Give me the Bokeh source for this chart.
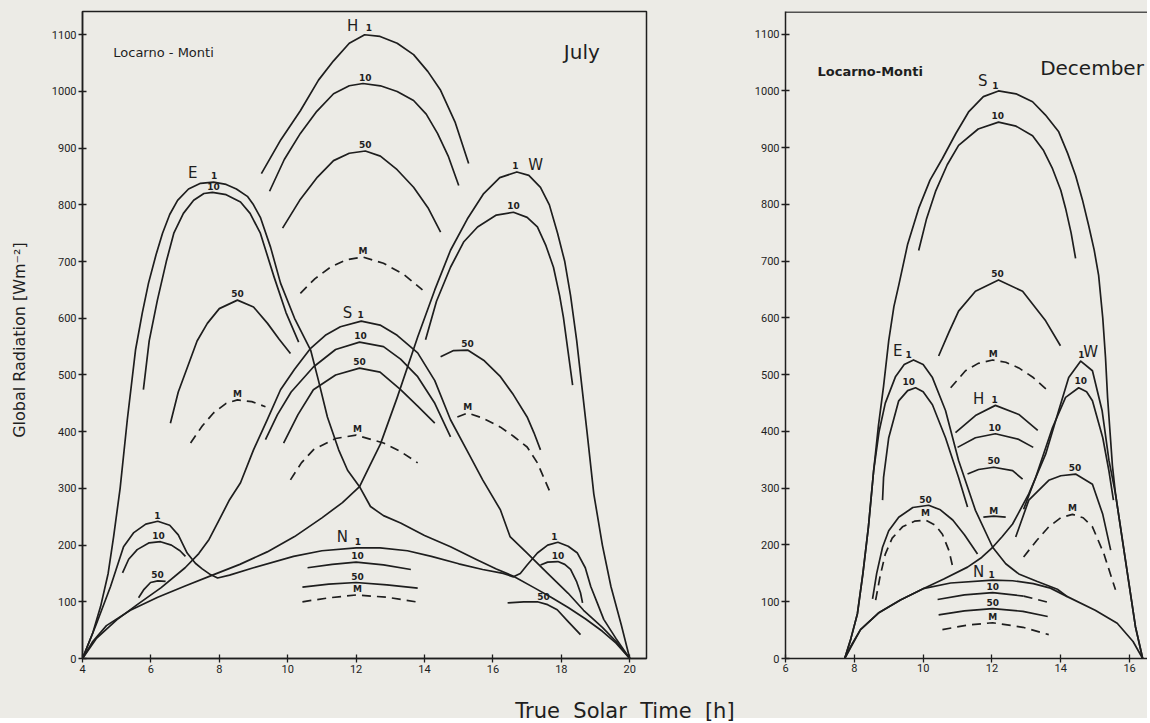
from bokeh.plotting import figure
from bokeh.layouts import row, column
from bokeh.models import Div, Span, FixedTicker, Range1d, ColumnDataSource
from bokeh.core.properties import value
from bokeh.embed import file_html
from bokeh.resources import INLINE

# ---------------- July (Locarno-Monti) : (true solar time h, W m-2) ----------------
JUL_E1 = [(4.0, 0), (4.3, 45), (4.53, 92), (4.75, 150), (4.91, 215), (5.1, 300), (5.31, 421), (5.55, 544),
          (5.75, 610), (5.93, 662), (6.15, 712), (6.34, 750), (6.55, 783), (6.78, 808), (7.1, 828),
          (7.45, 838), (7.83, 840), (8.2, 836), (8.5, 828), (8.82, 815), (9.0, 800), (9.2, 778),
          (9.5, 725), (9.79, 662), (10.2, 600), (10.67, 544), (10.9, 490), (11.16, 426), (11.49, 368),
          (11.75, 332), (12.1, 303), (12.42, 268), (12.8, 252), (13.3, 239), (14.0, 217), (14.76, 197),
          (15.5, 175), (16.1, 158), (16.6, 145), (17.2, 125), (17.7, 108), (18.2, 90), (18.7, 70),
          (19.2, 48), (19.6, 27), (20.0, 0)]
JUL_E10 = [(5.78, 474), (5.95, 560), (6.19, 632), (6.45, 700), (6.67, 750), (6.95, 785), (7.25, 808),
           (7.55, 820), (7.8, 822), (8.2, 818), (8.62, 805), (8.9, 785), (9.2, 750), (9.6, 673),
           (9.95, 610), (10.32, 558)]
JUL_E50 = [(6.57, 415), (6.8, 470), (7.07, 514), (7.35, 560), (7.65, 591), (8.0, 617), (8.53, 632),
           (9.0, 620), (9.41, 591), (9.75, 563), (10.08, 538)]
JUL_EM = [(7.16, 380), (7.5, 410), (7.83, 433), (8.2, 450), (8.53, 456), (8.95, 453), (9.35, 444)]

JUL_W1 = [(4.0, 0), (4.3, 30), (4.7, 58), (5.4, 85), (6.2, 108), (7.0, 128), (7.8, 147), (8.6, 166),
          (9.4, 188), (10.2, 215), (11.0, 248), (11.6, 275), (12.1, 303), (12.4, 340), (12.71, 378),
          (13.2, 460), (13.8, 567), (14.3, 650), (14.76, 720), (15.25, 775), (15.73, 820), (16.2, 848),
          (16.7, 858), (17.05, 852), (17.39, 831), (17.65, 800), (17.89, 750), (18.1, 700), (18.27, 640),
          (18.45, 560), (18.6, 480), (18.75, 400), (18.95, 290), (19.2, 200), (19.45, 127), (19.75, 60),
          (20.0, 0)]
JUL_W10 = [(14.03, 562), (14.35, 630), (14.76, 690), (15.15, 735), (15.55, 761), (16.1, 782), (16.6, 787),
           (17.0, 778), (17.3, 761), (17.55, 728), (17.77, 690), (17.95, 640), (18.06, 602), (18.2, 540),
           (18.33, 482)]
JUL_W50 = [(14.47, 532), (14.85, 543), (15.26, 544), (15.75, 525), (16.22, 497), (16.6, 465), (17.0, 426),
           (17.2, 398), (17.39, 368)]
JUL_WM = [(14.96, 426), (15.26, 433), (15.7, 424), (16.22, 408), (16.6, 392), (17.0, 373), (17.3, 345),
          (17.68, 292)]

JUL_S1 = [(4.0, 0), (4.4, 35), (5.0, 68), (5.6, 95), (6.3, 125), (7.0, 160), (7.4, 185), (7.7, 210),
          (8.0, 245), (8.3, 280), (8.62, 310), (9.0, 368), (9.4, 421), (9.79, 474), (10.2, 510),
          (10.67, 547), (11.1, 570), (11.54, 585), (12.15, 595), (12.7, 588), (13.2, 570), (13.8, 539),
          (14.3, 490), (14.76, 421), (15.26, 365), (15.7, 315), (16.22, 262), (16.5, 215), (17.0, 186),
          (17.6, 150), (18.2, 115), (18.65, 85), (19.2, 55), (19.6, 30), (20.0, 0)]
JUL_S10 = [(9.35, 386), (9.7, 430), (10.1, 470), (10.75, 514), (11.4, 545), (12.1, 558), (12.8, 550),
           (13.3, 528), (13.8, 497), (14.3, 450), (14.76, 391)]
JUL_S50 = [(9.88, 380), (10.3, 430), (10.75, 474), (11.4, 500), (12.1, 512), (12.7, 505), (13.3, 474),
           (13.8, 445), (14.3, 415)]
JUL_SM = [(10.08, 315), (10.4, 345), (10.75, 368), (11.4, 388), (12.0, 394), (12.8, 380), (13.3, 365),
          (13.8, 345)]

JUL_H1 = [(9.23, 855), (9.8, 915), (10.37, 966), (10.9, 1020), (11.34, 1054), (11.8, 1085), (12.25, 1100),
          (12.7, 1097), (13.2, 1085), (13.68, 1065), (14.1, 1035), (14.47, 1002), (14.9, 945), (15.29, 873)]
JUL_H10 = [(9.47, 824), (9.9, 880), (10.37, 926), (10.85, 965), (11.34, 996), (11.8, 1010), (12.2, 1014),
           (12.71, 1010), (13.2, 1000), (13.68, 984), (14.05, 960), (14.38, 926), (14.7, 885), (15.0, 834)]
JUL_H50 = [(9.85, 759), (10.35, 808), (10.87, 849), (11.34, 878), (11.8, 891), (12.27, 895), (12.71, 886),
           (13.2, 862), (13.68, 831), (14.1, 795), (14.47, 752)]
JUL_HM = [(10.37, 644), (10.8, 670), (11.25, 690), (11.7, 703), (12.2, 708), (12.8, 697), (13.4, 677),
          (13.94, 650)]

JUL_N1 = [(4.0, 0), (4.4, 60), (4.82, 127), (5.2, 197), (5.5, 222), (5.85, 237), (6.2, 242), (6.55, 235),
          (6.8, 218), (7.06, 186), (7.3, 168), (7.5, 158), (7.74, 148), (7.95, 142), (8.3, 147), (9.0, 160),
          (10.17, 180), (11.0, 190), (12.0, 195), (12.7, 195), (13.5, 190), (14.2, 180), (15.0, 167),
          (15.7, 157), (16.3, 150), (16.6, 144), (16.8, 150), (17.0, 165), (17.3, 186), (17.6, 200),
          (17.9, 205), (18.2, 198), (18.47, 186), (18.7, 160), (18.86, 127), (19.05, 98), (19.24, 69),
          (19.6, 35), (20.0, 0)]
JUL_N10_AM = [(5.17, 151), (5.35, 175), (5.6, 192), (5.95, 204), (6.28, 206), (6.6, 200), (6.85, 190),
              (7.01, 180)]
JUL_N50_AM = [(5.64, 107), (5.8, 122), (5.99, 134), (6.2, 137), (6.43, 136)]
JUL_N10_PM = [(17.39, 165), (17.6, 170), (17.9, 171), (18.1, 166), (18.27, 157), (18.45, 135), (18.56, 116),
              (18.62, 98)]
JUL_N50_PM = [(16.43, 98), (16.9, 100), (17.3, 100), (17.6, 95), (17.88, 86), (18.2, 65), (18.56, 42)]
JUL_N10 = [(10.58, 160), (11.3, 166), (12.0, 170), (12.8, 165), (13.6, 157)]
JUL_N50 = [(10.43, 126), (11.2, 131), (12.0, 134), (12.9, 130), (13.8, 124)]
JUL_NM = [(10.43, 100), (11.2, 107), (12.0, 112), (12.9, 108), (13.75, 100)]

JUL_BIG = [("H", 11.9, 1116), ("E", 7.22, 856), ("S", 11.75, 610), ("W", 17.25, 871), ("N", 11.6, 214)]
JUL_SMALL = [("1", 12.37, 1113), ("10", 12.27, 1025), ("50", 12.27, 906), ("M", 12.2, 719),
             ("1", 7.85, 851), ("10", 7.83, 832), ("50", 8.53, 643), ("M", 8.53, 467),
             ("1", 12.13, 606), ("10", 12.13, 569), ("50", 12.1, 523), ("M", 12.04, 405),
             ("1", 16.66, 869), ("10", 16.6, 798), ("50", 15.26, 555), ("M", 15.26, 444),
             ("1", 6.19, 253), ("10", 6.22, 217), ("50", 6.19, 148),
             ("1", 12.05, 206), ("10", 12.04, 181), ("50", 12.04, 145), ("M", 12.04, 123),
             ("1", 17.8, 215), ("10", 17.9, 182), ("50", 17.48, 110)]

# ---------------- December ----------------
DEC_S1 = [(7.72, 0), (7.9, 35), (8.09, 79), (8.25, 150), (8.41, 232), (8.56, 330), (8.7, 410), (8.85, 480),
          (9.0, 560), (9.15, 620), (9.3, 660), (9.55, 730), (9.87, 793), (10.2, 843), (10.56, 881),
          (10.95, 925), (11.32, 963), (11.75, 990), (12.19, 1000), (12.7, 995), (13.18, 981), (13.55, 958),
          (13.94, 928), (14.2, 890), (14.43, 851), (14.63, 808), (14.81, 763), (14.97, 720), (15.1, 675),
          (15.22, 600), (15.3, 530), (15.36, 460), (15.43, 400), (15.5, 340), (15.59, 290), (15.88, 173),
          (16.17, 56), (16.38, 0)]
DEC_S10 = [(9.87, 719), (10.1, 775), (10.36, 823), (10.7, 870), (11.03, 904), (11.6, 933), (12.19, 945),
           (12.7, 938), (13.18, 921), (13.5, 895), (13.76, 863), (14.0, 825), (14.14, 793), (14.3, 750),
           (14.43, 705)]
DEC_S50 = [(10.45, 533), (10.75, 575), (11.03, 612), (11.52, 647), (12.19, 667), (12.89, 647), (13.56, 595),
           (13.99, 551)]
DEC_SM = [(10.8, 477), (11.23, 507), (11.6, 520), (12.02, 526), (12.4, 522), (12.78, 512), (13.2, 495),
          (13.62, 472)]

DEC_E1 = [(7.72, 0), (7.9, 35), (8.09, 79), (8.25, 150), (8.41, 232), (8.56, 330), (8.72, 400), (8.9, 450),
          (9.2, 497), (9.45, 518), (9.72, 526), (10.0, 518), (10.27, 495), (10.65, 437), (11.03, 349),
          (11.52, 261), (12.02, 196), (12.4, 167), (12.78, 149), (13.3, 136), (13.9, 122), (14.19, 109),
          (15.0, 85), (15.64, 62), (16.1, 30), (16.38, 0)]
DEC_E10 = [(8.82, 279), (8.85, 319), (9.0, 389), (9.29, 454), (9.55, 472), (9.78, 477), (10.0, 470),
           (10.27, 447), (10.65, 389), (11.03, 319), (11.29, 267)]
DEC_E50 = [(8.53, 105), (8.65, 150), (8.82, 196), (9.0, 225), (9.29, 249), (9.7, 266), (10.16, 270),
           (10.5, 262), (10.86, 244), (11.2, 218), (11.58, 184)]
DEC_EM = [(8.62, 103), (8.75, 145), (8.9, 184), (9.1, 212), (9.4, 232), (9.75, 242), (10.07, 244),
          (10.35, 235), (10.56, 219), (10.75, 190), (10.88, 156)]

DEC_W1 = [(7.72, 0), (8.18, 51), (8.7, 80), (9.34, 103), (10.0, 123), (10.6, 140), (11.29, 161),
          (11.7, 178), (12.02, 196), (12.3, 215), (12.6, 237), (13.07, 290), (13.56, 360), (13.94, 437),
          (14.23, 495), (14.58, 524), (14.92, 507), (15.2, 437), (15.4, 349), (15.59, 290), (15.88, 173),
          (16.17, 56), (16.38, 0)]
DEC_W10 = [(12.92, 263), (13.27, 319), (13.76, 407), (14.14, 460), (14.52, 477), (14.75, 470), (14.92, 454),
           (15.22, 389), (15.4, 330), (15.53, 279)]
DEC_W50 = [(12.69, 214), (13.07, 279), (13.65, 314), (14.0, 322), (14.43, 325), (14.92, 307), (15.22, 254),
           (15.45, 191)]
DEC_WM = [(12.92, 179), (13.3, 208), (13.65, 232), (14.0, 248), (14.34, 254), (14.65, 248), (14.92, 232),
          (15.25, 185), (15.59, 121)]

DEC_H1 = [(10.94, 398), (11.52, 428), (12.1, 446), (12.78, 430), (13.33, 402)]
DEC_H10 = [(11.0, 372), (11.52, 389), (12.1, 396), (12.78, 386), (13.2, 372)]
DEC_H50 = [(11.29, 325), (11.61, 333), (12.05, 337), (12.6, 331), (12.89, 316)]
DEC_HM = [(11.75, 249), (12.05, 251), (12.4, 249)]

DEC_N1 = [(7.72, 0), (7.9, 22), (8.18, 51), (8.7, 80), (9.34, 103), (10.0, 123), (10.8, 133), (12.02, 138),
          (12.6, 137), (13.2, 132), (13.7, 124), (14.19, 109)]
DEC_N10 = [(10.42, 104), (11.2, 112), (12.02, 116), (12.92, 110)]
DEC_N10_TAIL = [(12.92, 110), (13.7, 98)]
DEC_N50 = [(10.45, 77), (11.2, 84), (12.02, 88), (12.9, 83), (13.62, 74)]
DEC_NM = [(10.56, 51), (11.3, 59), (12.02, 63), (12.9, 55), (13.65, 42)]

DEC_BIG = [("S", 11.73, 1018), ("E", 9.26, 541), ("W", 14.87, 540), ("H", 11.61, 458), ("N", 11.61, 153)]
DEC_SMALL = [("1", 12.1, 1009), ("10", 12.17, 956), ("50", 12.16, 678), ("M", 12.04, 537),
             ("1", 9.58, 535), ("10", 9.58, 488), ("50", 10.07, 281), ("M", 10.07, 256),
             ("1", 14.6, 535), ("10", 14.58, 489), ("50", 14.41, 336), ("M", 14.34, 265),
             ("1", 12.08, 456), ("10", 12.08, 407), ("50", 12.05, 348), ("M", 12.05, 260),
             ("1", 11.99, 148), ("10", 12.02, 126), ("50", 12.02, 98), ("M", 12.02, 73)]

JUL_XTICKS = [4, 6, 8, 10, 12, 14, 16, 18, 20]
DEC_XTICKS = [6, 8, 10, 12, 14, 16]
YTICKS = [0, 100, 200, 300, 400, 500, 600, 700, 800, 900, 1000, 1100]

INK = "#1e1e1e"
PAPER = "#ecebe6"
FONT = "DejaVu Sans"
TICKFONT = "Roboto"


def make_fig(width, height, xr, yr, bl, br, bt, bb, xticks):
    p = figure(width=width, height=height, x_range=Range1d(*xr), y_range=Range1d(*yr),
               output_backend="svg", toolbar_location=None,
               min_border_left=bl, min_border_right=br, min_border_top=bt, min_border_bottom=bb)
    p.grid.visible = False
    p.background_fill_color = PAPER
    p.border_fill_color = PAPER
    p.outline_line_color = INK
    p.outline_line_width = 1.5
    p.xaxis.ticker = FixedTicker(ticks=xticks)
    p.yaxis.ticker = FixedTicker(ticks=YTICKS)
    for ax in (p.xaxis, p.yaxis):
        ax.axis_line_color = INK
        ax.axis_line_width = 1.5
        ax.major_tick_line_color = INK
        ax.major_tick_line_width = 1.3
        ax.major_tick_in = 4
        ax.major_tick_out = 4
        ax.minor_tick_line_color = None
        ax.major_label_text_font = TICKFONT
        ax.major_label_text_font_size = "11px"
        ax.major_label_text_color = INK
        ax.major_label_standoff = 2
    return p


def curve(p, pts, dashed=False):
    p.line(x=[q[0] for q in pts], y=[q[1] for q in pts], line_color=INK, line_width=1.7,
           line_dash=("9 6" if dashed else "solid"), line_join="round")


def labels(p, items, size, bold):
    src = ColumnDataSource(dict(x=[i[1] for i in items], y=[i[2] for i in items], t=[i[0] for i in items]))
    p.text(x="x", y="y", text="t", source=src, text_font=value(FONT), text_font_size=size,
           text_font_style=("bold" if bold else "normal"), text_align="center",
           text_baseline="middle", text_color=INK)


# ---------- left panel: July ----------
p1 = make_fig(700, 678, (4, 20.49), (0, 1141), 82, 54, 10, 20, JUL_XTICKS)
p1.yaxis.axis_label = "Global  Radiation  [Wm\u207b\u00b2]"
p1.yaxis.axis_label_text_font = FONT
p1.yaxis.axis_label_text_font_size = "16px"
p1.yaxis.axis_label_text_font_style = "normal"
p1.yaxis.axis_label_text_color = INK
p1.yaxis.axis_label_standoff = 20

for c in (JUL_E1, JUL_E10, JUL_E50, JUL_W1, JUL_W10, JUL_W50, JUL_S1, JUL_S10, JUL_S50,
          JUL_H1, JUL_H10, JUL_H50, JUL_N1, JUL_N10_AM, JUL_N50_AM, JUL_N10_PM, JUL_N50_PM,
          JUL_N10, JUL_N50):
    curve(p1, c)
for c in (JUL_EM, JUL_WM, JUL_SM, JUL_HM, JUL_NM):
    curve(p1, c, dashed=True)
labels(p1, JUL_BIG, "15px", False)
labels(p1, JUL_SMALL, "9px", True)
p1.text(x=[4.9], y=[1069], text=["Locarno - Monti"], text_font=value(FONT), text_font_size="13px",
        text_align="left", text_baseline="middle", text_color=INK)
p1.text(x=[18.6], y=[1069], text=["July"], text_font=value(FONT), text_font_size="20px",
        text_align="center", text_baseline="middle", text_color=INK)

# ---------- right panel: December ----------
p2 = make_fig(447, 678, (6, 16.52), (0, 1140), 85, 0, 11, 17, DEC_XTICKS)
p2.outline_line_color = None
p2.xaxis.major_label_standoff = 1
p2.add_layout(Span(location=1139, dimension="width", line_color=INK, line_width=1.5))

for c in (DEC_S1, DEC_S10, DEC_S50, DEC_E1, DEC_E10, DEC_E50, DEC_W1, DEC_W10, DEC_W50,
          DEC_H1, DEC_H10, DEC_H50, DEC_HM, DEC_N1, DEC_N10, DEC_N50):
    curve(p2, c)
for c in (DEC_SM, DEC_EM, DEC_WM, DEC_N10_TAIL, DEC_NM):
    curve(p2, c, dashed=True)
labels(p2, DEC_BIG, "15px", False)
labels(p2, DEC_SMALL, "9px", True)
p2.text(x=[6.93], y=[1035], text=["Locarno-Monti"], text_font=value(FONT), text_font_size="13px",
        text_font_style="bold", text_align="left", text_baseline="middle", text_color=INK)
p2.text(x=[13.4], y=[1040], text=["December"], text_font=value(FONT), text_font_size="20px",
        text_align="left", text_baseline="middle", text_color=INK)

xlabel = Div(text=('<div style="position:absolute; left:500px; top:23px; width:250px; text-align:center; '
                   'white-space:nowrap; line-height:1; font-family:\'DejaVu Sans\'; font-size:21px; '
                   'color:#1e1e1e;">True&nbsp; Solar&nbsp; Time&nbsp; [h]</div>'),
             width=1147, height=40, margin=(0, 0, 0, 0),
             styles={"background-color": PAPER, "position": "relative"})

layout = column(row(p1, p2, styles={"background-color": PAPER}), xlabel,
                styles={"background-color": PAPER})
open("out.html", "w").write(file_html(layout, INLINE))
